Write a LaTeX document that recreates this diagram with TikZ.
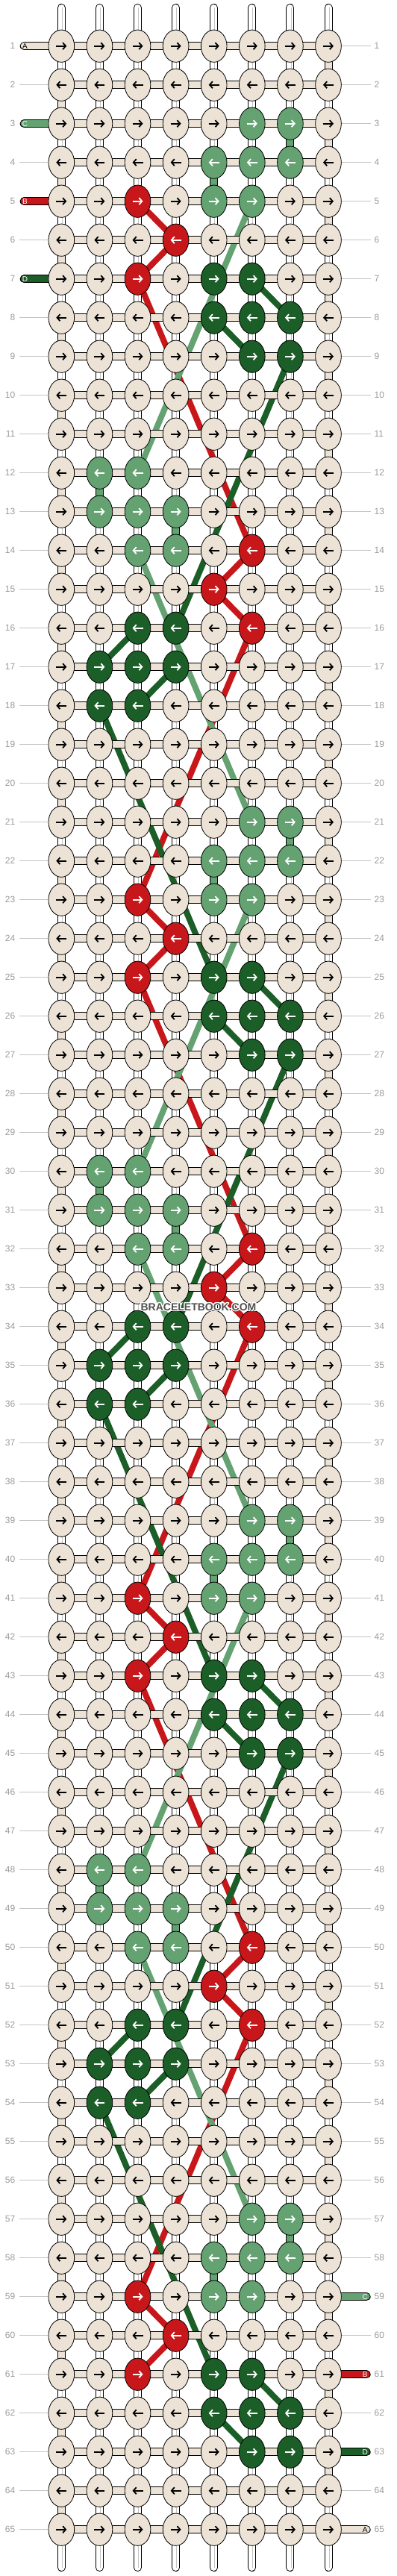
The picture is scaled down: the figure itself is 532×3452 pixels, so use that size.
\documentclass[tikz,border=0pt]{standalone}
\usepackage{fontspec}
\setmainfont{Liberation Sans}
\usepackage[copies]{contour}
\usetikzlibrary{shapes.geometric,arrows.meta}
\pgfdeclarelayer{tubes}
\pgfdeclarelayer{strands}
\pgfdeclarelayer{links}
\pgfsetlayers{tubes,strands,links,main}

\definecolor{col0}{HTML}{ECE3D6}
\definecolor{col1}{HTML}{64A272}
\definecolor{col2}{HTML}{1B5E28}
\definecolor{col3}{HTML}{C8171A}
\colorlet{acol0}{black}
\colorlet{acol1}{white}
\colorlet{acol2}{white}
\colorlet{acol3}{white}
\definecolor{numgrey}{HTML}{9A9A9A}
\definecolor{rulegrey}{HTML}{C4C4C4}
\definecolor{wmgrey}{HTML}{505050}
\contourlength{1.2pt}
\contournumber{20}

% knot colours of the repeat, rows 3 to 20
\def\pat{{0,0,0,0,0,1,1,0,%
0,0,0,0,1,1,1,0,%
0,0,3,0,1,1,0,0,%
0,0,0,3,0,0,0,0,%
0,0,3,0,2,2,0,0,%
0,0,0,0,2,2,2,0,%
0,0,0,0,0,2,2,0,%
0,0,0,0,0,0,0,0,%
0,0,0,0,0,0,0,0,%
0,1,1,0,0,0,0,0,%
0,1,1,1,0,0,0,0,%
0,0,1,1,0,3,0,0,%
0,0,0,0,3,0,0,0,%
0,0,2,2,0,3,0,0,%
0,2,2,2,0,0,0,0,%
0,2,2,0,0,0,0,0,%
0,0,0,0,0,0,0,0,%
0,0,0,0,0,0,0,0}}

\tikzset{
  knot/.style={ellipse, draw, line width=0.8pt, minimum width=34.7pt, minimum height=43.3pt, inner sep=0pt},
  knotarrow/.style={line width=1.8pt, -{Straight Barb[length=4pt,width=9pt]}},
  link/.style={draw=black, line width=1pt, double=#1, double distance=9pt},
  tube/.style={draw=black, line width=1pt, double=white, double distance=9pt, line cap=round},
  strand/.style={draw=#1, line width=8pt},
  rowrule/.style={draw=rulegrey, line width=0.8pt},
  rownum/.style={text=numgrey, font=\fontsize{12}{14}\selectfont, inner sep=0pt},
  barletter/.style={font=\fontsize{10}{12}\selectfont, inner sep=0pt}
}

\begin{document}
\begin{tikzpicture}[x=1pt, y=-1pt]
  \useasboundingbox (0,0) rectangle (532,3452);

  % knots
  \foreach \r in {1,...,65}{
    \foreach \c in {1,...,8}{
      \pgfmathtruncatemacro\idx{mod(\r+15,18)*8+\c-1}
      \pgfmathtruncatemacro\k{\pat[\idx]}
      \node[knot, fill=col\k] (k\r-\c) at ({82.3+51.1*(\c-1)}, {61.7+52*(\r-1)}) {};
      \ifodd\r
        \draw[knotarrow, acol\k] ([xshift=-7pt]k\r-\c.center) -- ([xshift=7pt]k\r-\c.center);
      \else
        \draw[knotarrow, acol\k] ([xshift=7pt]k\r-\c.center) -- ([xshift=-7pt]k\r-\c.center);
      \fi
    }
  }

  % row numbers
  \foreach \r in {1,...,65}{
    \node[rownum, anchor=east] (nl-\r) at (20.5, {61.7+52*(\r-1)}) {\r};
    \node[rownum, anchor=west] (nr-\r) at (501.5, {61.7+52*(\r-1)}) {\r};
  }

  \begin{pgfonlayer}{tubes}
    \foreach \c in {1,...,8}{
      \coordinate (top-\c) at ({82.3+51.1*(\c-1)}, 10.5);
      \coordinate (bot-\c) at ({82.3+51.1*(\c-1)}, 3440.5);
      \draw[tube] (top-\c) -- (bot-\c);
      \draw[rulegrey, line width=0.7pt] ([xshift=1pt]top-\c) -- ([xshift=1pt]bot-\c);
    }
    \foreach \r in {2,4,6,8,9,...,65}{
      \coordinate (gl-\r) at (26, {61.7+52*(\r-1)});
      \draw[rowrule] (gl-\r) -- (k\r-1.center);
    }
    \foreach \r in {1,...,58,60,62,64}{
      \coordinate (gr-\r) at (497, {61.7+52*(\r-1)});
      \draw[rowrule] (k\r-8.center) -- (gr-\r);
    }
  \end{pgfonlayer}

  \begin{pgfonlayer}{strands}
    \foreach \b in {0,18,36,54}{
      \foreach \ra/\ca/\rb/\cb/\s in {5/3/6/4/col3, 6/4/7/3/col3, 7/3/14/6/col3, 14/6/15/5/col3, 15/5/16/6/col3, 16/6/23/3/col3,
          5/6/12/3/col1, 14/3/21/6/col1,
          7/6/8/7/col2, 8/5/9/6/col2, 9/7/16/4/col2, 16/3/17/2/col2, 17/4/18/3/col2, 18/2/25/5/col2}{
        \pgfmathtruncatemacro\ya{\ra+\b}
        \pgfmathtruncatemacro\yb{\rb+\b}
        \ifnum\yb<66
          \draw[strand=\s] (k\ya-\ca.center) -- (k\yb-\cb.center);
        \fi
      }
    }
  \end{pgfonlayer}

  \begin{pgfonlayer}{links}
    \foreach \r in {1,...,65}
      \draw[link=col0] (k\r-1.center) -- (k\r-8.center);
    \foreach \r [evaluate=\r as \n using int(\r+1)] in {1,3,...,63}
      \draw[link=col0] (k\r-8.center) -- (k\n-8.center);
    \foreach \r [evaluate=\r as \n using int(\r+1)] in {2,4,...,64}
      \draw[link=col0] (k\r-1.center) -- (k\n-1.center);
    \foreach \b in {0,18,36,54}{
      \foreach \ra/\ca in {3/7, 4/5, 12/2, 13/4}{
        \pgfmathtruncatemacro\ya{\ra+\b}
        \pgfmathtruncatemacro\yb{\ra+\b+1}
        \ifnum\yb<66
          \draw[link=col1] (k\ya-\ca.center) -- (k\yb-\ca.center);
        \fi
      }
    }
    % strings coming in and going out
    \foreach \r/\s/\l/\t in {1/col0/A/black, 3/col1/C/white, 5/col3/B/white, 7/col2/D/white}{
      \coordinate (in-\r) at (32.2, {61.7+52*(\r-1)});
      \draw[link=\s, line cap=round] (in-\r) -- (k\r-1.center);
    }
    \foreach \r/\s/\l/\t in {59/col1/C/white, 61/col3/B/white, 63/col2/D/white, 65/col0/A/black}{
      \coordinate (out-\r) at (491.2, {61.7+52*(\r-1)});
      \draw[link=\s, line cap=round] (k\r-8.center) -- (out-\r);
    }
  \end{pgfonlayer}

  \foreach \r/\l/\t in {1/A/black, 3/C/white, 5/B/white, 7/D/white}
    \node[barletter, text=\t] (lin-\l) at (33.5, {61.7+52*(\r-1)}) {\l};
  \foreach \r/\l/\t in {59/C/white, 61/B/white, 63/D/white, 65/A/black}
    \node[barletter, text=\t] (lout-\l) at (489.3, {61.7+52*(\r-1)}) {\l};

  \node[text=wmgrey, font=\bfseries\fontsize{14}{16}\selectfont, inner sep=0pt] (wm) at (266, 1752) {\contour{white}{BRACELETBOOK.COM}};
\end{tikzpicture}
\end{document}
